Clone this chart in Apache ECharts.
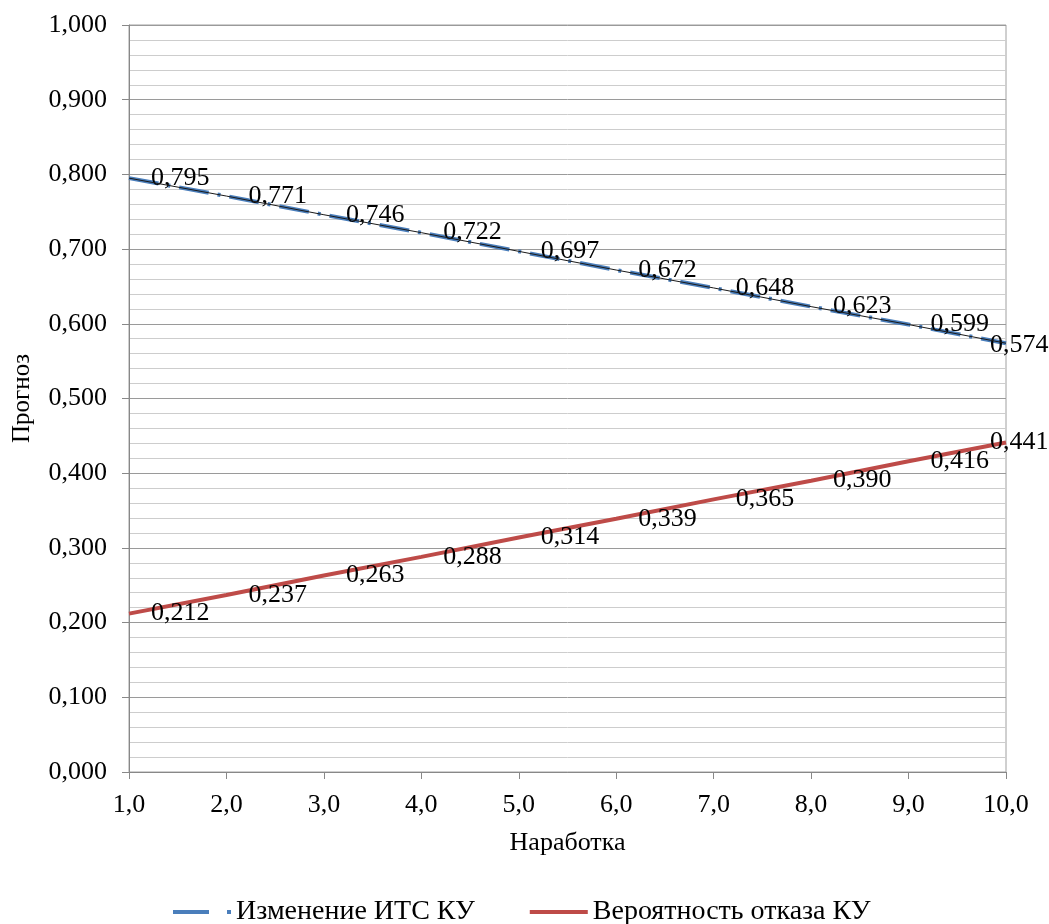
<!DOCTYPE html>
<html><head><meta charset="utf-8">
<script src="https://cdn.jsdelivr.net/npm/echarts@6/dist/echarts.min.js"></script>
<style>html,body{margin:0;padding:0;background:#fff}#c{width:1049px;height:924px}</style>
</head><body><div id="c"></div>
<script>
const xValues = [1, 2, 3, 4, 5, 6, 7, 8, 9, 10];
const itsValues = [0.795, 0.771, 0.746, 0.722, 0.697, 0.672, 0.648, 0.623, 0.599, 0.574];
const failValues = [0.212, 0.237, 0.263, 0.288, 0.314, 0.339, 0.365, 0.390, 0.416, 0.441];
const seriesNames = ['Изменение ИТС КУ', 'Вероятность отказа КУ'];
const xAxisTitle = 'Наработка';
const yAxisTitle = 'Прогноз';

const FONT = 'Liberation Serif';
const fmt3 = v => v.toFixed(3).replace('.', ',');
const fmt1 = v => v.toFixed(1).replace('.', ',');

function mkData(vals, dy) {
  return vals.map((v, i) => {
    const item = { value: [xValues[i], v] };
    if (i === vals.length - 1) {
      item.label = { position: [-16, dy], align: 'left', verticalAlign: 'middle' };
    }
    return item;
  });
}

const labelBase = {
  show: true, position: 'right', distance: 22,
  fontFamily: FONT, fontSize: 26, color: '#000',
  formatter: p => fmt3(p.value[1])
};

const chart = echarts.init(document.getElementById('c'), null, { renderer: 'canvas' });
chart.setOption({
  animation: false,
  backgroundColor: '#fff',
  grid: { left: 129, right: 43, top: 25, bottom: 152, show: true, borderColor: '#a0a0a0', borderWidth: 1, containLabel: false },
  xAxis: {
    type: 'value', min: 1, max: 10, interval: 1,
    name: xAxisTitle, nameLocation: 'middle', nameGap: 58,
    nameTextStyle: { fontFamily: FONT, fontSize: 26, color: '#000' },
    axisLine: { show: true, lineStyle: { color: '#888', width: 1 } },
    axisTick: { show: true, inside: false, length: 7, lineStyle: { color: '#888' } },
    axisLabel: { fontFamily: FONT, fontSize: 26, color: '#000', margin: 20, formatter: fmt1 },
    splitLine: { show: false }
  },
  yAxis: {
    type: 'value', min: 0, max: 1, interval: 0.1,
    name: yAxisTitle, nameLocation: 'middle', nameGap: 94, nameRotate: 90,
    nameTextStyle: { fontFamily: FONT, fontSize: 25, color: '#000' },
    axisLine: { show: true, lineStyle: { color: '#888', width: 1 } },
    axisTick: { show: true, inside: false, length: 7, lineStyle: { color: '#888' } },
    axisLabel: { fontFamily: FONT, fontSize: 26, color: '#000', margin: 22, formatter: fmt3 },
    splitLine: { show: true, lineStyle: { color: '#9a9a9a', width: 1 } },
    minorTick: { show: false, splitNumber: 5 },
    minorSplitLine: { show: true, lineStyle: { color: '#cdcdcd', width: 1 } }
  },
  legend: {
    top: 893, left: 168,
    data: [
      { name: seriesNames[0], icon: 'path://M0,0H36V4H0Z M54,0H58V4H54Z' },
      { name: seriesNames[1], icon: 'path://M0,0H58V4H0Z' }
    ],
    itemWidth: 58, itemHeight: 4, itemGap: 55,
    textStyle: { fontFamily: FONT, fontSize: 28, color: '#000' }
  },
  series: [
    {
      name: seriesNames[0], type: 'line', data: mkData(itsValues, 2),
      showSymbol: true, symbol: 'circle', symbolSize: 0.01,
      lineStyle: { color: '#4a7ebb', width: 4, type: [30, 9, 3, 9] },
      itemStyle: { color: '#4a7ebb' },
      label: labelBase, z: 2
    },
    {
      name: 'trend', type: 'line', data: xValues.map((x, i) => [x, itsValues[i]]),
      showSymbol: false, symbol: 'none',
      lineStyle: { color: '#1a1a1a', width: 1 }, z: 3, silent: true
    },
    {
      name: seriesNames[1], type: 'line', data: mkData(failValues, 0),
      showSymbol: true, symbol: 'circle', symbolSize: 0.01,
      lineStyle: { color: '#be4b48', width: 4 },
      itemStyle: { color: '#be4b48' },
      label: labelBase, z: 2
    }
  ]
});
</script></body></html>
